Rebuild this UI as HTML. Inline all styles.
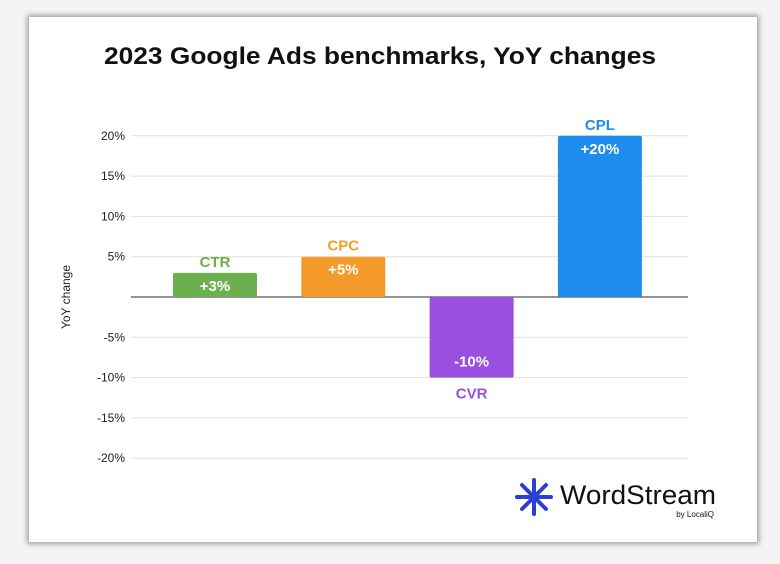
<!DOCTYPE html>
<html><head><meta charset="utf-8"><style>
body{margin:0;width:780px;height:564px;background:#f4f4f4;font-family:"Liberation Sans",sans-serif;overflow:hidden}
#card{position:absolute;left:29px;top:17px;width:728px;height:525px;background:#fff;box-shadow:0 0 5px 2px rgba(0,0,0,0.35)}
</style></head><body>
<div id="card"></div>
<svg id="chart" width="780" height="564" style="position:absolute;left:0;top:0">
<text x="380" y="64" text-anchor="middle" font-size="24" font-weight="bold" fill="#111" textLength="552" lengthAdjust="spacingAndGlyphs">2023 Google Ads benchmarks, YoY changes</text>
<text transform="translate(70,297) rotate(-90)" text-anchor="middle" font-size="12" fill="#222">YoY change</text>
<g id="grid"></g><g id="bars"></g>
<g>
<g stroke="#2b3fd0" stroke-width="4" stroke-linecap="round">
<line x1="534" y1="480" x2="534" y2="514"/><line x1="517" y1="497" x2="551" y2="497"/>
<line x1="522" y1="485" x2="546" y2="509"/><line x1="546" y1="485" x2="522" y2="509"/>
</g>
<text x="560" y="504" font-size="27" fill="#111" textLength="156" lengthAdjust="spacingAndGlyphs">WordStream</text>
<text x="714" y="517" text-anchor="end" font-size="8" fill="#111">by LocaliQ</text>
</g>
</svg>
<script>
const categories=["CTR","CPC","CVR","CPL"];
const values=[3,5,-10,20];
const valueLabels=["+3%","+5%","-10%","+20%"];
const colors=["#6ab04c","#f39a2b","#9b4fe0","#1f8cf0"];
const ticks=[20,15,10,5,0,-5,-10,-15,-20];
const NS="http://www.w3.org/2000/svg";
const y=v=>297-v*8.06;
const x=i=>173+i*128.3;
const bw=84;
function mk(t,a,p,txt){const e=document.createElementNS(NS,t);for(const k in a)e.setAttribute(k,a[k]);if(txt!==undefined)e.textContent=txt;p.appendChild(e);return e;}
const grid=document.getElementById('grid'),bars=document.getElementById('bars');
ticks.forEach(t=>{
 const l=mk('line',{x1:131,x2:688,y1:y(t),y2:y(t),stroke:t===0?'#555':'#e0e0e0','stroke-width':t===0?1.3:1},grid);
 
 
 if(t!==0){const tx=mk('text',{x:125,y:y(t)+4,'text-anchor':'end','font-size':12,fill:'#222'},grid,t+'%');
 
 }
});
values.forEach((v,i)=>{
 const top=Math.min(y(v),y(0)),h=Math.abs(y(v)-y(0));
 const r=mk('rect',{x:x(i),y:top,width:bw,height:h,fill:colors[i],rx:2},bars);
 
 
 const cx=x(i)+bw/2;
 const cy=v>=0?y(v)-6:y(v)+21;
 const c=mk('text',{x:cx,y:cy,'text-anchor':'middle','font-size':15,'font-weight':'bold',fill:colors[i]},bars,categories[i]);
 
 
 const vy=v>=0?y(v)+Math.min(18,h-4):y(v)-11;
 const vl=mk('text',{x:cx,y:vy+(v>=0&&h<22?-1:0),'text-anchor':'middle','font-size':15,'font-weight':'bold',fill:'#fff'},bars,valueLabels[i]);
 
 
});
</script>
</body></html>
